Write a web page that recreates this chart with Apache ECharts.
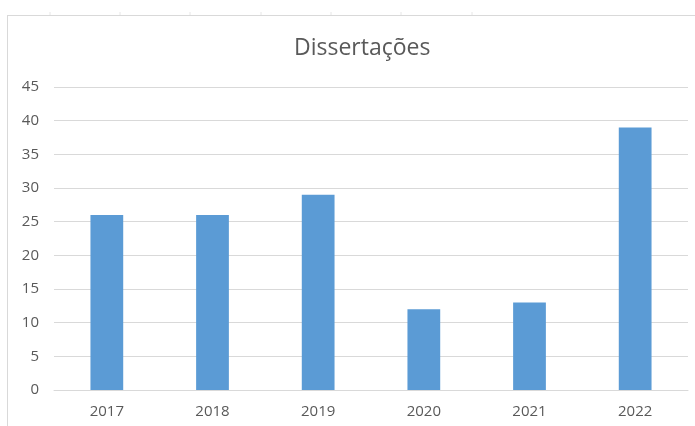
<!DOCTYPE html>
<html>
<head>
<meta charset="utf-8">
<script src="https://cdn.jsdelivr.net/npm/echarts@6/dist/echarts.min.js"></script>
<style>
  html, body { margin: 0; padding: 0; background: #ffffff; }
  #chart { width: 695px; height: 426px; }
</style>
</head>
<body>
<div id="chart"></div>
<script>
// Number of dissertations per year
const years = ['2017', '2018', '2019', '2020', '2021', '2022'];
const dissertacoes = [26, 26, 29, 12, 13, 39];
const titleText = 'Dissertações';

const chart = echarts.init(document.getElementById('chart'), null, { renderer: 'canvas' });

const textColor = '#595959';
const lineColor = '#d9d9d9';
const fontFamily = '"Open Sans", "Noto Sans", sans-serif';

// faint sheet column separators above the chart frame
const colMarks = [50, 120, 190, 261, 331, 401, 472].map(x => ({
  type: 'line',
  shape: { x1: x, y1: 12, x2: x, y2: 15 },
  style: { stroke: '#e6e6e6', lineWidth: 1 },
  silent: true
}));

chart.setOption({
  animation: false,
  backgroundColor: '#ffffff',
  title: {
    text: titleText,
    left: 289,
    top: 32,
    textStyle: { color: textColor, fontSize: 23, fontWeight: 'normal', fontFamily: fontFamily }
  },
  grid: { left: 54, right: 7, top: 87, bottom: 36 },
  xAxis: {
    type: 'category',
    data: years,
    axisLine: { lineStyle: { color: lineColor, width: 1 } },
    axisTick: { show: false },
    axisLabel: { color: textColor, fontSize: 15, margin: 14, fontFamily: fontFamily }
  },
  yAxis: {
    type: 'value',
    min: 0,
    max: 45,
    interval: 5,
    axisLine: { show: false },
    axisTick: { show: false },
    axisLabel: { color: textColor, fontSize: 15, margin: 15, fontFamily: fontFamily },
    splitLine: { lineStyle: { color: lineColor, width: 1 } }
  },
  series: [{
    type: 'bar',
    data: dissertacoes,
    barWidth: '31%',
    itemStyle: { color: '#5b9bd5' }
  }],
  graphic: [
    { type: 'line', shape: { x1: 7, y1: 15.5, x2: 695, y2: 15.5 }, style: { stroke: lineColor, lineWidth: 1 }, silent: true },
    { type: 'line', shape: { x1: 7.5, y1: 15, x2: 7.5, y2: 426 }, style: { stroke: lineColor, lineWidth: 1 }, silent: true }
  ].concat(colMarks)
});
</script>
</body>
</html>
